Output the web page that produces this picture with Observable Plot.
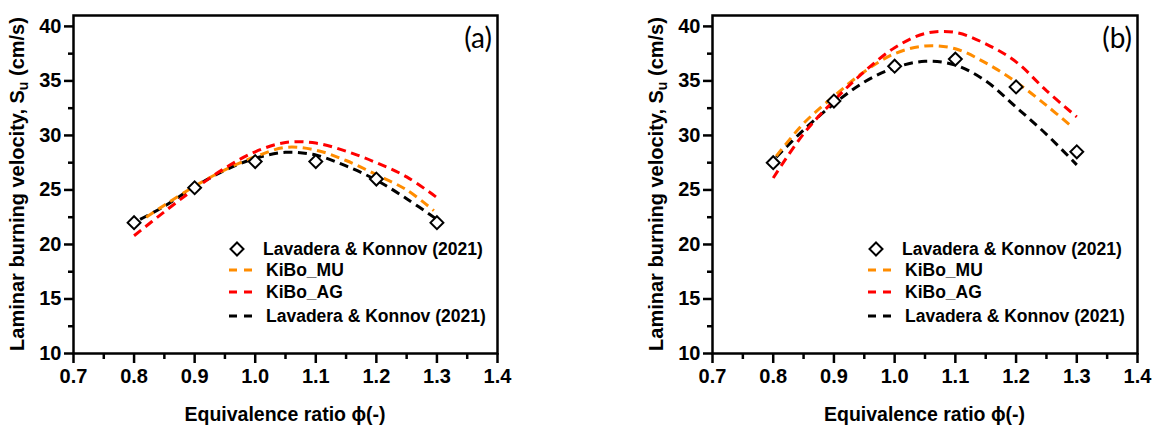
<!DOCTYPE html>
<html><head><meta charset="utf-8">
<script src="https://cdn.jsdelivr.net/npm/d3@7"></script>
<script src="https://cdn.jsdelivr.net/npm/@observablehq/plot@0.6"></script>
<style>
body{margin:0;background:#fff;}
#fig{position:relative;width:1153px;height:432px;overflow:hidden;background:#fff;}
#fig svg{position:absolute;top:0;}
#fig svg text{font-family:"Liberation Sans", Arial, sans-serif;}
#fig svg text.tag{font-family:Lato, "Open Sans", sans-serif;}
</style></head><body><div id="fig"></div>
<script>
// ---- data ----
const phiExp = [0.8, 0.9, 1.0, 1.1, 1.2, 1.3];
const expA = [22.0, 25.2, 27.6, 27.6, 26.0, 22.0];
const expB = [27.5, 33.15, 36.35, 37.0, 34.45, 28.5];

const phiMU_A = [0.82, 0.85, 0.9, 0.95, 1.0, 1.05, 1.1, 1.15, 1.2, 1.25, 1.295];
const muA     = [22.5, 23.6, 25.35, 26.85, 28.05, 28.9, 28.65, 27.7, 26.4, 25.0, 23.1];
const phiAG_A = [0.8, 0.85, 0.9, 0.95, 1.0, 1.05, 1.1, 1.15, 1.2, 1.25, 1.3];
const agA     = [20.8, 23.0, 25.1, 27.0, 28.5, 29.35, 29.3, 28.55, 27.5, 26.2, 24.3];
const phiLK_A = [0.81, 0.85, 0.9, 0.95, 1.0, 1.05, 1.1, 1.15, 1.2, 1.25, 1.3];
const lkA     = [22.3, 23.5, 25.3, 26.8, 27.9, 28.45, 28.2, 27.2, 25.9, 24.2, 22.3];

const phiMU_B = [0.805, 0.85, 0.9, 0.95, 1.0, 1.05, 1.1, 1.15, 1.2, 1.25, 1.29];
const muB     = [28.1, 31.1, 33.6, 35.85, 37.5, 38.2, 37.95, 36.65, 34.9, 32.75, 30.9];
const phiAG_B = [0.8, 0.85, 0.9, 0.95, 1.0, 1.05, 1.1, 1.15, 1.2, 1.25, 1.3];
const agB     = [26.1, 30.15, 33.2, 35.85, 38.05, 39.35, 39.45, 38.4, 36.75, 34.1, 31.7];
const phiLK_B = [0.805, 0.85, 0.9, 0.95, 1.0, 1.05, 1.1, 1.15, 1.2, 1.25, 1.3];
const lkB     = [28.0, 30.5, 32.9, 34.9, 36.2, 36.8, 36.45, 35.0, 32.6, 30.1, 27.3];

const xTicks = [0.7, 0.8, 0.9, 1.0, 1.1, 1.2, 1.3, 1.4];
const xMinor = [0.75, 0.85, 0.95, 1.05, 1.15, 1.25, 1.35];
const yTicks = [10, 15, 20, 25, 30, 35, 40];
const yMinor = [12.5, 17.5, 22.5, 27.5, 32.5, 37.5];

const legendLabels = ["Lavadera & Konnov (2021)", "KiBo_MU", "KiBo_AG", "Lavadera & Konnov (2021)"];
const colors = {MU: "#ff8c00", AG: "#ff0000", LK: "#000000"};
const xTitle = "Equivalence ratio \u03D5(-)";

const zip = (xs, ys) => xs.map((x, i) => ({phi: x, v: ys[i]}));

function panel({exp, mu, ag, lk, tag, left, width, marginRight}) {
  const H = 432, mL = 73, mT = 15, mB = 79;
  const dash = "9,5.5";
  const lineOpts = c => ({x: "phi", y: "v", stroke: c, strokeWidth: 3, strokeDasharray: dash, strokeLinecap: "butt", strokeLinejoin: "miter", curve: "catmull-rom"});
  const chart = Plot.plot({
    width, height: H, marginLeft: mL, marginRight, marginTop: mT, marginBottom: mB,
    style: {fontSize: "20px", fontWeight: "bold", color: "#000", background: "transparent", overflow: "visible"},
    x: {domain: [0.7, 1.4], label: null},
    y: {domain: [10, 41], label: null},
    marks: [
      Plot.axisX({ticks: xMinor, tickSize: 6, tickFormat: () => "", strokeWidth: 2.5, label: null}),
      Plot.axisX({ticks: xTicks, tickSize: 10, tickPadding: 5, tickFormat: d3.format(".1f"), strokeWidth: 2.5, label: null}),
      Plot.axisY({ticks: yMinor, tickSize: 5, tickFormat: () => "", strokeWidth: 2.5, label: null}),
      Plot.axisY({ticks: yTicks, tickSize: 9, tickPadding: 3, tickFormat: d => String(d), strokeWidth: 2.5, label: null}),
      Plot.line(lk, lineOpts(colors.LK)),
      Plot.line(mu, lineOpts(colors.MU)),
      Plot.line(ag, lineOpts(colors.AG)),
      Plot.dot(exp, {x: "phi", y: "v", symbol: "diamond2", r: 5.8, stroke: "#000", strokeWidth: 2, fill: "#fff"}),
      Plot.frame({stroke: "#000", strokeWidth: 2.5})
    ]
  });
  chart.style.left = left + "px";
  const svg = d3.select(chart);
  const fr = width - marginRight;
  // y title
  const yt = svg.append("text")
    .attr("transform", `translate(24,${(mT + H - mB) / 2}) rotate(-90)`)
    .attr("text-anchor", "middle").style("font-size", "20px").style("font-weight", "bold").attr("fill", "#000");
  yt.append("tspan").text("Laminar burning velocity, S");
  yt.append("tspan").text("u").attr("dy", 4).style("font-size", "14px");
  yt.append("tspan").text(" (cm/s)").attr("dy", -4);
  // x title
  svg.append("text").attr("x", (mL + fr) / 2).attr("y", 421).attr("text-anchor", "middle")
    .style("font-size", "19.5px").style("font-weight", "bold").attr("fill", "#000").text(xTitle);
  // panel tag
  svg.append("text").attr("class", "tag").attr("x", fr - 5).attr("y", 48).attr("text-anchor", "end")
    .style("font-size", "28px").style("font-weight", "normal")
    .attr("fill", "#000").text(tag);
  // legend
  const lx = mL + 164;
  const rows = [249, 270, 292, 316];
  const lg = svg.append("g").style("font-size", "17.5px").style("font-weight", "bold").attr("text-anchor", "start");
  lg.append("path").attr("d", `M${lx},${rows[0] - 6.5}L${lx + 6.5},${rows[0]}L${lx},${rows[0] + 6.5}L${lx - 6.5},${rows[0]}Z`)
    .attr("fill", "#fff").attr("stroke", "#000").attr("stroke-width", 2);
  lg.append("text").attr("x", lx + 26).attr("y", rows[0]).attr("dy", "0.35em").attr("text-anchor", "start").attr("fill", "#000").text(legendLabels[0]);
  [colors.MU, colors.AG, colors.LK].forEach((c, i) => {
    const y = rows[i + 1];
    lg.append("line").attr("x1", lx - 8).attr("x2", lx + 15).attr("y1", y).attr("y2", y)
      .attr("stroke", c).attr("stroke-width", 3).attr("stroke-dasharray", "8,7");
    lg.append("text").attr("x", lx + 29).attr("y", y).attr("dy", "0.35em").attr("text-anchor", "start").attr("fill", "#000").text(legendLabels[i + 1]);
  });
  return chart;
}

const fig = document.getElementById("fig");
fig.appendChild(panel({
  exp: zip(phiExp, expA), mu: zip(phiMU_A, muA), ag: zip(phiAG_A, agA), lk: zip(phiLK_A, lkA),
  tag: "(a)", left: 0, width: 639, marginRight: 142
}));
fig.appendChild(panel({
  exp: zip(phiExp, expB), mu: zip(phiMU_B, muB), ag: zip(phiAG_B, agB), lk: zip(phiLK_B, lkB),
  tag: "(b)", left: 639, width: 514, marginRight: 16
}));
</script></body></html>
